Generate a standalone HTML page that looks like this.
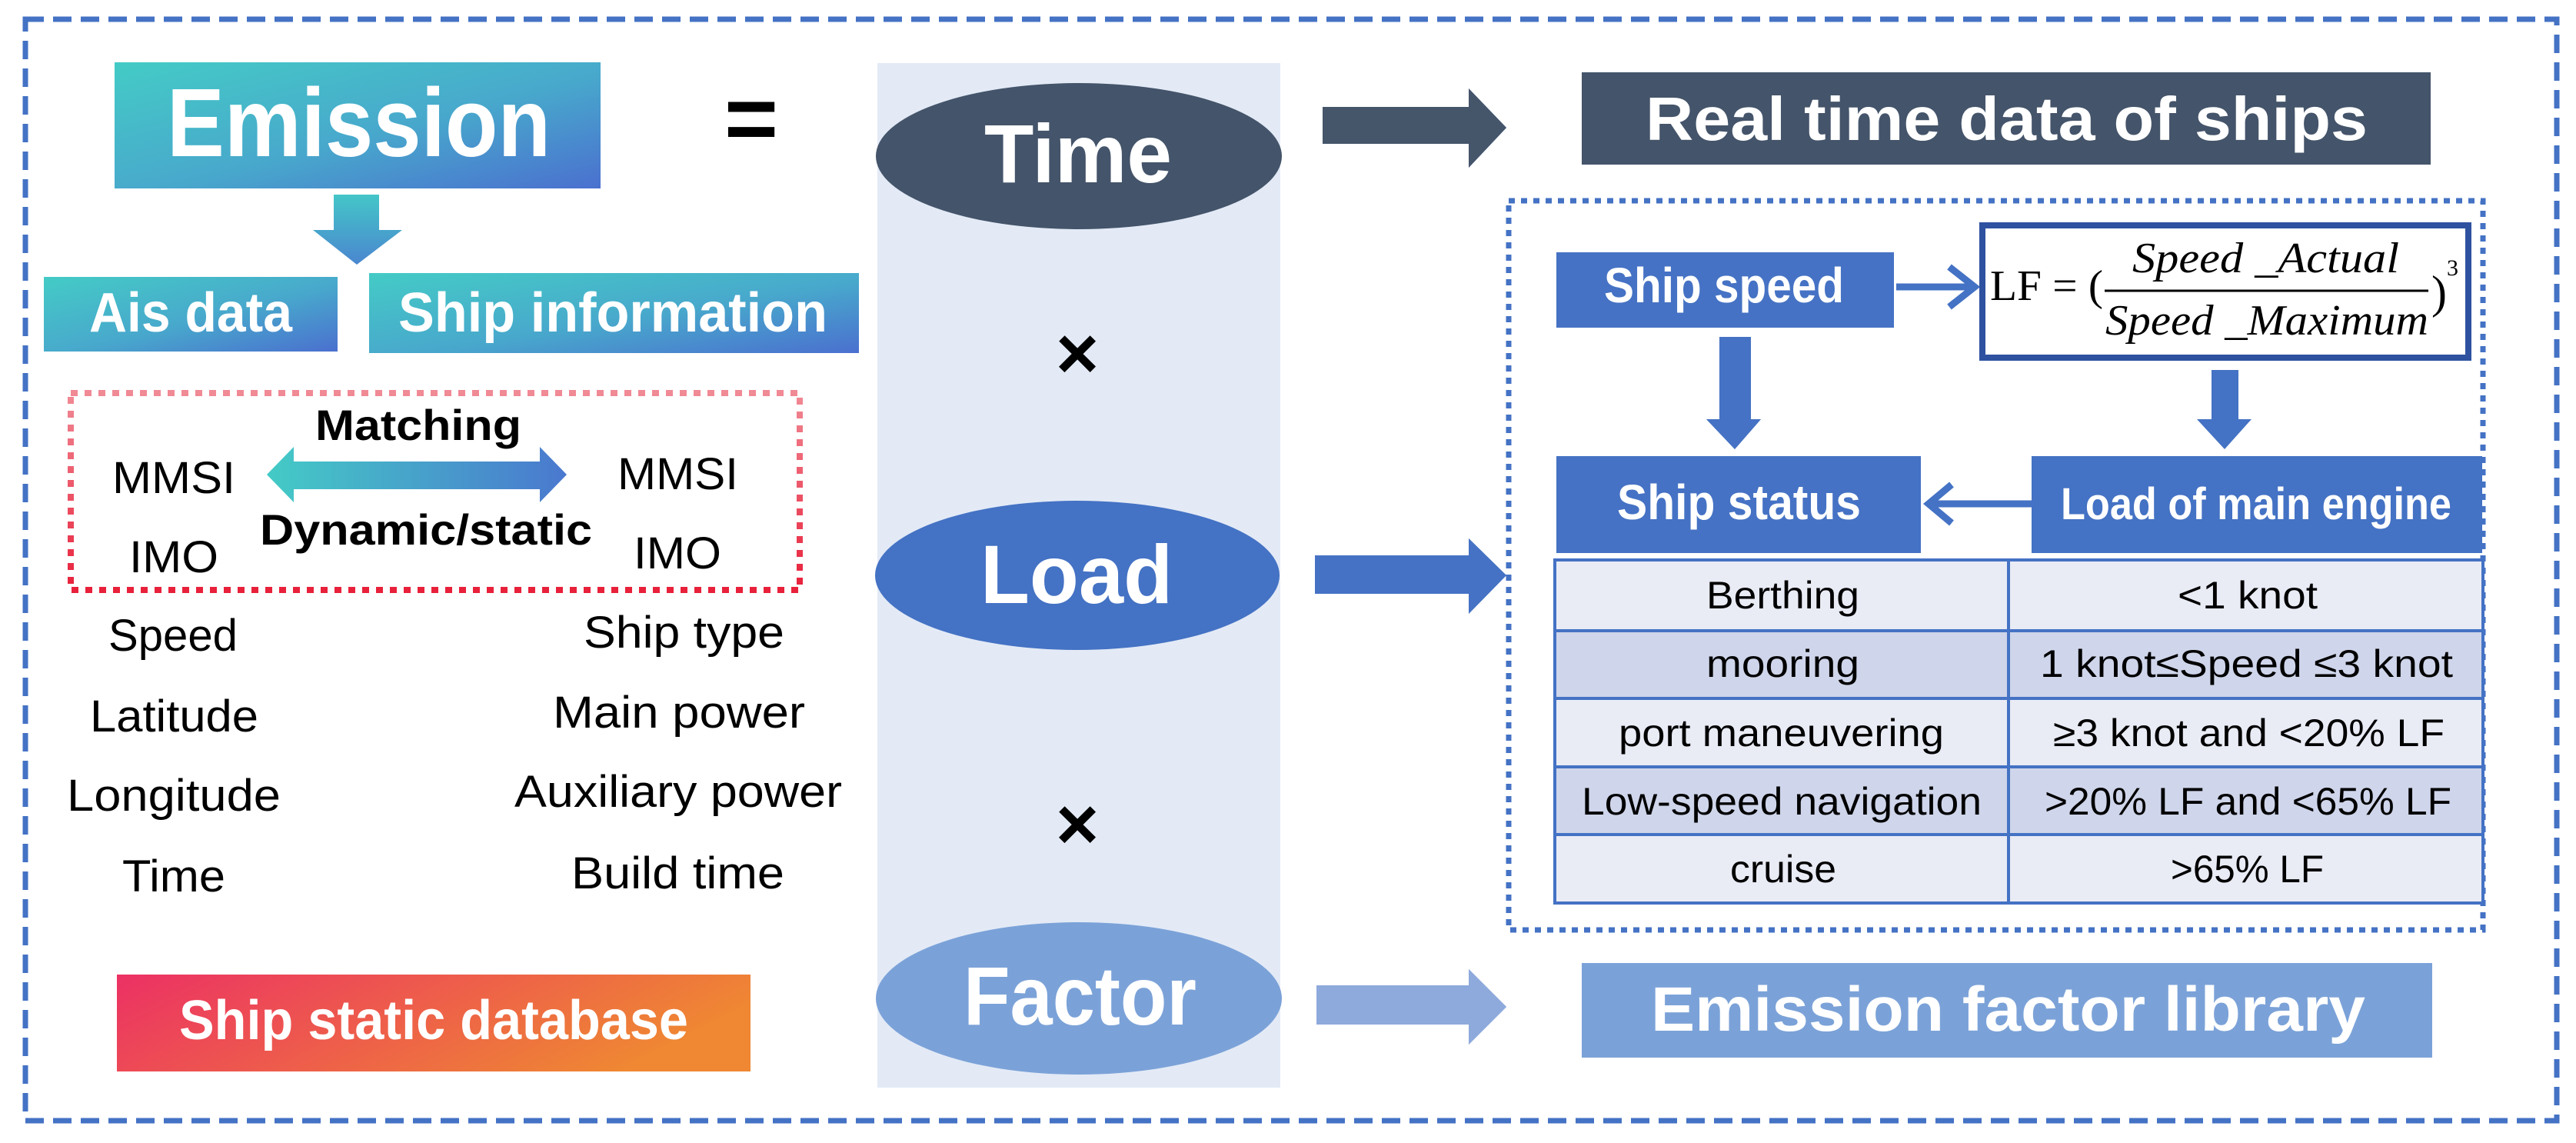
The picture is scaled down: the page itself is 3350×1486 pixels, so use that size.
<!DOCTYPE html>
<html><head><meta charset="utf-8"><style>
html,body{margin:0;padding:0;background:#fff;}
svg{display:block;}
text{font-family:"Liberation Sans",sans-serif;}
text.serif{font-family:"Liberation Serif",serif;}
</style></head><body>
<svg width="3350" height="1486" viewBox="0 0 3350 1486" xmlns="http://www.w3.org/2000/svg">
<defs>
<linearGradient id="tb" x1="0" y1="0" x2="1" y2="1"><stop offset="0" stop-color="#44cbc6"/><stop offset="0.55" stop-color="#48a8cc"/><stop offset="1" stop-color="#4a70cf"/></linearGradient>
<linearGradient id="tbh" x1="0" y1="0" x2="1" y2="0"><stop offset="0" stop-color="#44cbc6"/><stop offset="1" stop-color="#4a78cf"/></linearGradient>
<linearGradient id="tbv" x1="0" y1="0" x2="0" y2="1"><stop offset="0" stop-color="#44c6c8"/><stop offset="1" stop-color="#4a86cf"/></linearGradient>
<linearGradient id="or" x1="0" y1="0" x2="1" y2="0.3"><stop offset="0" stop-color="#ec3164"/><stop offset="1" stop-color="#ef8733"/></linearGradient>
<linearGradient id="rd" x1="0" y1="0" x2="0" y2="1"><stop offset="0" stop-color="#f08a95"/><stop offset="1" stop-color="#e8203a"/></linearGradient>
<filter id="sh" x="-20%" y="-20%" width="150%" height="160%"><feGaussianBlur in="SourceAlpha" stdDeviation="8"/><feOffset dx="0" dy="12"/><feComponentTransfer><feFuncA type="linear" slope="0.35"/></feComponentTransfer><feFlood flood-color="#4472c4"/><feComposite operator="in" in2="SourceAlpha"/><feMerge><feMergeNode/><feMergeNode in="SourceGraphic"/></feMerge></filter>
</defs>

<rect x="33" y="25" width="3292" height="1432" fill="none" stroke="#4472c4" stroke-width="7" stroke-dasharray="24 12"/>

<rect x="1141" y="82" width="524" height="1332" fill="#e3eaf6"/>

<rect x="149" y="81" width="632" height="164" fill="url(#tb)"/>
<text x="217" y="203" font-size="126" font-weight="bold" fill="#fff" textLength="499" lengthAdjust="spacingAndGlyphs">Emission</text>
<text x="977" y="195" font-size="120" font-weight="bold" fill="#000" text-anchor="middle">=</text>

<polygon points="434,253 493,253 493,299 523,299 464,344 407,299 434,299" fill="url(#tbv)"/>

<rect x="57" y="360" width="382" height="97" fill="url(#tb)"/>
<text x="116" y="431" font-size="72" font-weight="bold" fill="#fff" textLength="264" lengthAdjust="spacingAndGlyphs">Ais data</text>
<rect x="480" y="355" width="637" height="104" fill="url(#tb)"/>
<text x="518" y="431" font-size="72" font-weight="bold" fill="#fff" textLength="558" lengthAdjust="spacingAndGlyphs">Ship information</text>

<rect x="92" y="511" width="948" height="256" fill="none" stroke="url(#rd)" stroke-width="8" stroke-dasharray="9 9"/>
<text x="410" y="572" font-size="56" font-weight="bold" fill="#000" textLength="268" lengthAdjust="spacingAndGlyphs">Matching</text>
<text x="338" y="708" font-size="56" font-weight="bold" fill="#000" textLength="432" lengthAdjust="spacingAndGlyphs">Dynamic/static</text>
<polygon points="347,617 382,581 382,600 702,600 702,581 737,617 702,653 702,636 382,636 382,653" fill="url(#tbh)"/>
<text x="146" y="641" font-size="58" fill="#000" textLength="160" lengthAdjust="spacingAndGlyphs">MMSI</text>
<text x="803" y="636" font-size="58" fill="#000" textLength="157" lengthAdjust="spacingAndGlyphs">MMSI</text>
<text x="168" y="744" font-size="58" fill="#000" textLength="116" lengthAdjust="spacingAndGlyphs">IMO</text>
<text x="824" y="739" font-size="58" fill="#000" textLength="114" lengthAdjust="spacingAndGlyphs">IMO</text>

<g font-size="58" fill="#000">
<text x="141" y="846" textLength="168" lengthAdjust="spacingAndGlyphs">Speed</text>
<text x="117" y="951" textLength="219" lengthAdjust="spacingAndGlyphs">Latitude</text>
<text x="87" y="1054" textLength="278" lengthAdjust="spacingAndGlyphs">Longitude</text>
<text x="159" y="1159" textLength="134" lengthAdjust="spacingAndGlyphs">Time</text>
<text x="759" y="842" textLength="261" lengthAdjust="spacingAndGlyphs">Ship type</text>
<text x="719" y="946" textLength="328" lengthAdjust="spacingAndGlyphs">Main power</text>
<text x="669" y="1049" textLength="426" lengthAdjust="spacingAndGlyphs">Auxiliary power</text>
<text x="743" y="1155" textLength="277" lengthAdjust="spacingAndGlyphs">Build time</text>
</g>

<rect x="152" y="1267" width="824" height="126" fill="url(#or)"/>
<text x="233" y="1351" font-size="72" font-weight="bold" fill="#fff" textLength="662" lengthAdjust="spacingAndGlyphs">Ship static database</text>

<ellipse cx="1403" cy="203" rx="264" ry="95" fill="#44546a"/>
<text x="1280" y="237" font-size="108" font-weight="bold" fill="#fff" textLength="244" lengthAdjust="spacingAndGlyphs">Time</text>
<text x="1401" y="492" font-size="96" font-weight="bold" fill="#000" text-anchor="middle">×</text>
<ellipse cx="1401" cy="748" rx="263" ry="97" fill="#4472c4"/>
<text x="1275" y="784" font-size="108" font-weight="bold" fill="#fff" textLength="250" lengthAdjust="spacingAndGlyphs">Load</text>
<text x="1401" y="1104" font-size="96" font-weight="bold" fill="#000" text-anchor="middle">×</text>
<ellipse cx="1403" cy="1298" rx="264" ry="99" fill="#7ba2d8"/>
<text x="1253" y="1332" font-size="108" font-weight="bold" fill="#fff" textLength="303" lengthAdjust="spacingAndGlyphs">Factor</text>

<polygon points="1720,139 1910,139 1910,115 1959,166 1910,218 1910,187 1720,187" fill="#44546a" filter="url(#sh)"/>
<polygon points="1710,722 1910,722 1910,700 1959,748 1910,798 1910,772 1710,772" fill="#4472c4" filter="url(#sh)"/>
<polygon points="1712,1281 1910,1281 1910,1260 1959,1309 1910,1358 1910,1332 1712,1332" fill="#8eaadc" filter="url(#sh)"/>

<rect x="2057" y="94" width="1104" height="120" fill="#44546a"/>
<text x="2140" y="182" font-size="80" font-weight="bold" fill="#fff" textLength="939" lengthAdjust="spacingAndGlyphs">Real time data of ships</text>

<rect x="2057" y="1252" width="1106" height="123" fill="#7ba2d8"/>
<text x="2147" y="1340" font-size="82" font-weight="bold" fill="#fff" textLength="929" lengthAdjust="spacingAndGlyphs">Emission factor library</text>

<rect x="1962" y="261" width="1267" height="948" fill="none" stroke="#4472c4" stroke-width="7" stroke-dasharray="8 8"/>

<rect x="2024" y="328" width="439" height="98" fill="#4472c4" filter="url(#sh)"/>
<text x="2086" y="393" font-size="64" font-weight="bold" fill="#fff" textLength="312" lengthAdjust="spacingAndGlyphs">Ship speed</text>

<line x1="2466" y1="373" x2="2565" y2="373" stroke="#4472c4" stroke-width="9"/>
<polyline points="2535,347 2568,373 2535,399" fill="none" stroke="#4472c4" stroke-width="9"/>

<rect x="2578" y="293" width="632" height="172" fill="#fff" stroke="#2f52a0" stroke-width="8"/>
<g fill="#000">
<text class="serif" x="2588" y="390" font-size="56" textLength="147" lengthAdjust="spacingAndGlyphs">LF = (</text>
<text class="serif" x="2773" y="354" font-size="56" font-style="italic" textLength="347" lengthAdjust="spacingAndGlyphs">Speed _Actual</text>
<line x1="2737" y1="378" x2="3158" y2="378" stroke="#000" stroke-width="3"/>
<text class="serif" x="2738" y="435" font-size="56" font-style="italic" textLength="420" lengthAdjust="spacingAndGlyphs">Speed _Maximum</text>
<text class="serif" x="3162" y="400" font-size="60">)</text>
<text class="serif" x="3182" y="358" font-size="30">3</text>
</g>

<polygon points="2236,438 2277,438 2277,545 2290,545 2256,584 2219,545 2236,545" fill="#4472c4" filter="url(#sh)"/>
<polygon points="2876,481 2911,481 2911,545 2928,545 2893,584 2857,545 2876,545" fill="#4472c4"/>

<rect x="2024" y="593" width="474" height="126" fill="#4472c4" filter="url(#sh)"/>
<text x="2103" y="675" font-size="64" font-weight="bold" fill="#fff" textLength="317" lengthAdjust="spacingAndGlyphs">Ship status</text>
<rect x="2642" y="593" width="586" height="126" fill="#4472c4"/>
<text x="2680" y="675" font-size="58" font-weight="bold" fill="#fff" textLength="508" lengthAdjust="spacingAndGlyphs">Load of main engine</text>
<line x1="2642" y1="655" x2="2512" y2="655" stroke="#4472c4" stroke-width="9"/>
<polyline points="2538,630 2508,655 2538,680" fill="none" stroke="#4472c4" stroke-width="9"/>

<rect x="2022" y="728" width="1207" height="92" fill="#e9ebf5"/>
<rect x="2022" y="820" width="1207" height="88" fill="#cfd5ea"/>
<rect x="2022" y="908" width="1207" height="89" fill="#e9ebf5"/>
<rect x="2022" y="997" width="1207" height="88" fill="#cfd5ea"/>
<rect x="2022" y="1085" width="1207" height="89" fill="#e9ebf5"/>
<g stroke="#4472c4" stroke-width="4" fill="none">
<rect x="2022" y="728" width="1207" height="446"/>
<line x1="2022" y1="820" x2="3229" y2="820"/>
<line x1="2022" y1="908" x2="3229" y2="908"/>
<line x1="2022" y1="997" x2="3229" y2="997"/>
<line x1="2022" y1="1085" x2="3229" y2="1085"/>
<line x1="2612" y1="728" x2="2612" y2="1174"/>
</g>
<g font-size="50" fill="#000">
<text x="2219" y="791" textLength="199" lengthAdjust="spacingAndGlyphs">Berthing</text>
<text x="2219" y="880" textLength="199" lengthAdjust="spacingAndGlyphs">mooring</text>
<text x="2105" y="970" textLength="423" lengthAdjust="spacingAndGlyphs">port maneuvering</text>
<text x="2057" y="1059" textLength="520" lengthAdjust="spacingAndGlyphs">Low-speed navigation</text>
<text x="2250" y="1147" textLength="138" lengthAdjust="spacingAndGlyphs">cruise</text>
<text x="2832" y="791" textLength="182" lengthAdjust="spacingAndGlyphs">&lt;1 knot</text>
<text x="2653" y="880" textLength="537" lengthAdjust="spacingAndGlyphs">1 knot≤Speed ≤3 knot</text>
<text x="2670" y="970" textLength="509" lengthAdjust="spacingAndGlyphs">≥3 knot and &lt;20% LF</text>
<text x="2659" y="1059" textLength="529" lengthAdjust="spacingAndGlyphs">&gt;20% LF and &lt;65% LF</text>
<text x="2823" y="1147" textLength="199" lengthAdjust="spacingAndGlyphs">&gt;65% LF</text>
</g>
</svg>
</body></html>
